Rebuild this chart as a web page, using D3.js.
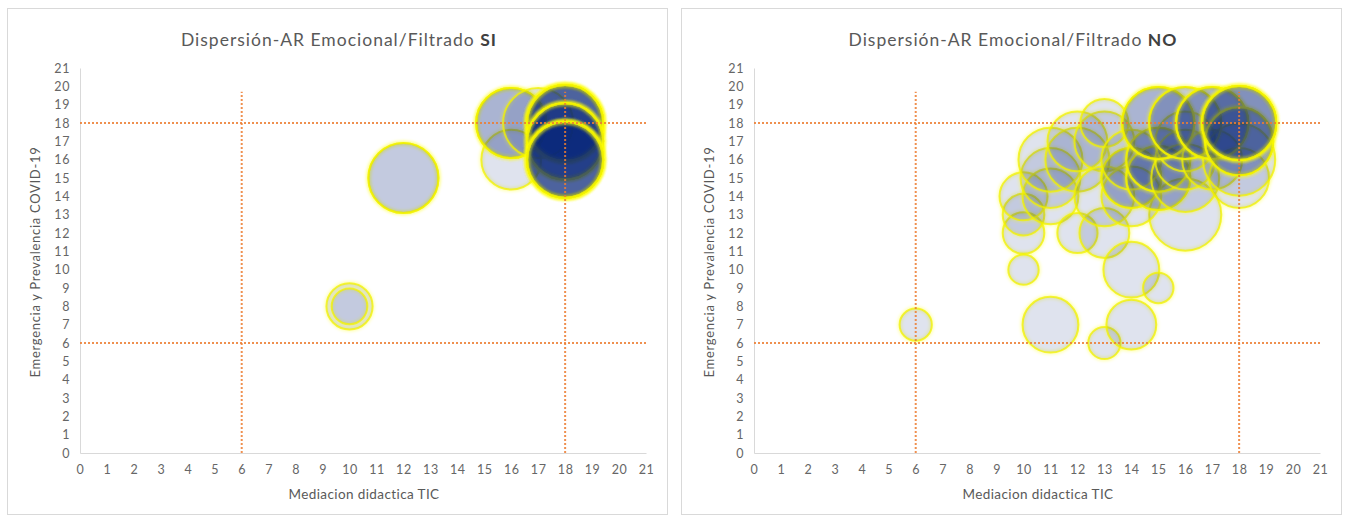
<!DOCTYPE html>
<html>
<head>
<meta charset="utf-8">
<title>Dispersión-AR Emocional/Filtrado</title>
<script src="https://d3js.org/d3.v7.min.js"></script>
<style>
  body { margin: 0; background: #fff; font-family: Lato, 'Open Sans', sans-serif; }
  .tick text { fill: #666; font-size: 12.5px; letter-spacing: 0.6px; font-family: Lato, sans-serif; }
</style>
</head>
<body>
<svg id="svg" width="1347" height="522"></svg>
<script>
// axis ticks 0..21 on both axes
const ticks = d3.range(0, 22);

// reference lines (dotted orange)
const refX = [6, 18];
const refY = [18, 6];
const refXTop = 19.7;

// Filtrado SI : x, y, bubble size, how many responses sit on that point
const siX     = [10, 10, 12, 16, 16, 17, 18, 18, 18];
const siY     = [8, 8, 15, 16, 18, 18, 18, 17, 16];
const siSize  = [3.7, 2.2, 8.5, 6.2, 8.5, 8.5, 10, 10, 10];
const siCount = [1, 1, 2, 1, 3, 1, 9, 6, 9];

// Filtrado NO
const noX     = [6, 10, 10, 10, 10, 11, 11, 12, 13, 13, 14, 14, 15, 16, 11, 11, 12, 12, 13, 13, 13, 14, 14, 14, 15, 15, 16, 16, 16, 17, 18, 18, 15, 16, 17, 18, 18];
const noY     = [7, 10, 12, 13, 14, 14, 7, 12, 12, 6, 7, 10, 9, 13, 15, 16, 16, 17, 17, 18, 14, 14, 15, 16, 15, 16, 15, 16, 17, 16, 15, 16, 18, 18, 18, 17, 18];
const noSize  = [1.8, 1.6, 3, 3, 4, 5.4, 5.4, 2.8, 4.3, 1.8, 4.3, 5.4, 1.6, 9, 6.2, 7.1, 7.1, 6.2, 6.2, 4, 6.2, 6.2, 6.2, 6.2, 7.1, 7.1, 8, 6.2, 6.2, 6.2, 6.2, 9, 9, 9, 9, 8, 9.5];
const noCount = [1, 1, 1, 1, 1, 1, 1, 1, 1, 1, 1, 1, 1, 1, 1, 1, 1, 1, 1, 1, 1, 1, 2, 1, 2, 2, 1, 1, 1, 1, 1, 1, 3, 2, 3, 3, 5];

const svg = d3.select('#svg');

// soft yellow glow round the bubbles
const defs = svg.append('defs');
defs.append('filter').attr('id', 'glow')
    .attr('x', '-20%').attr('y', '-20%').attr('width', '140%').attr('height', '140%')
  .append('feGaussianBlur').attr('stdDeviation', 1.6);

function drawChart(left, label, xs, ys, sizes, counts) {
  const g = svg.append('g').attr('transform', 'translate(' + left + ',0)');

  // frame
  g.append('rect')
    .attr('x', 0.5).attr('y', 8.5)
    .attr('width', 660).attr('height', 506)
    .attr('fill', '#fff').attr('stroke', '#d9d9d9');

  const x = d3.scaleLinear().domain([0, 21]).range([73, 639]);
  const y = d3.scaleLinear().domain([0, 21]).range([453, 68]);
  const r = d3.scaleSqrt().domain([0, 10]).range([0, 38]);

  // axes
  const xAxis = g.append('g')
    .attr('transform', 'translate(0,' + y(0) + ')')
    .call(d3.axisBottom(x).tickValues(ticks).tickSize(0).tickPadding(12));
  const yAxis = g.append('g')
    .attr('transform', 'translate(' + x(0) + ',0)')
    .call(d3.axisLeft(y).tickValues(ticks).tickSize(0).tickPadding(10));
  xAxis.select('.domain').attr('stroke', '#d9d9d9');
  yAxis.select('.domain').attr('stroke', '#d9d9d9');

  // title
  const title = g.append('text')
    .attr('x', 332).attr('y', 46)
    .attr('text-anchor', 'middle')
    .attr('fill', '#595959')
    .style('font-size', '17.5px')
    .style('letter-spacing', '1px');
  title.append('tspan').text('Dispersión-AR Emocional/Filtrado ');
  title.append('tspan').attr('font-weight', 'bold').attr('fill', '#404040').text(label);

  // axis titles
  g.append('text')
    .attr('x', 357).attr('y', 499)
    .attr('text-anchor', 'middle')
    .attr('fill', '#595959')
    .style('font-size', '13.5px')
    .style('letter-spacing', '0.4px')
    .text('Mediacion didactica TIC');

  g.append('text')
    .attr('transform', 'translate(33,262) rotate(-90)')
    .attr('text-anchor', 'middle')
    .attr('fill', '#595959')
    .style('font-size', '13px')
    .style('letter-spacing', '0.7px')
    .text('Emergencia y Prevalencia COVID-19');

  // one bubble per response, repeated points pile up and get darker
  const pts = [];
  xs.forEach((v, i) => {
    for (let k = 0; k < counts[i]; k++) pts.push({ x: v, y: ys[i], s: sizes[i] });
  });

  const b = g.append('g').selectAll('g').data(pts).join('g');
  b.append('circle')
    .attr('cx', d => x(d.x)).attr('cy', d => y(d.y)).attr('r', d => r(d.s))
    .attr('fill', 'none')
    .attr('stroke', '#ffff00')
    .attr('stroke-width', 4.5)
    .attr('stroke-opacity', 0.28)
    .attr('filter', 'url(#glow)');
  b.append('circle')
    .attr('cx', d => x(d.x)).attr('cy', d => y(d.y)).attr('r', d => r(d.s))
    .attr('fill', '#06247f')
    .attr('fill-opacity', 0.13)
    .attr('stroke', '#f2f200')
    .attr('stroke-width', 2)
    .attr('stroke-opacity', 0.75);

  // dotted reference lines
  g.selectAll('.vref').data(refX).join('line')
    .attr('class', 'vref')
    .attr('x1', d => x(d)).attr('x2', d => x(d))
    .attr('y1', y(0)).attr('y2', y(refXTop))
    .attr('stroke', '#ed7d31').attr('stroke-width', 2)
    .attr('stroke-dasharray', '2,2').attr('opacity', 0.85);
  g.selectAll('.href').data(refY).join('line')
    .attr('class', 'href')
    .attr('x1', x(0)).attr('x2', x(21))
    .attr('y1', d => y(d)).attr('y2', d => y(d))
    .attr('stroke', '#ed7d31').attr('stroke-width', 2)
    .attr('stroke-dasharray', '2,2').attr('opacity', 0.85);
}

drawChart(7, 'SI', siX, siY, siSize, siCount);
drawChart(681, 'NO', noX, noY, noSize, noCount);
</script>
</body>
</html>
